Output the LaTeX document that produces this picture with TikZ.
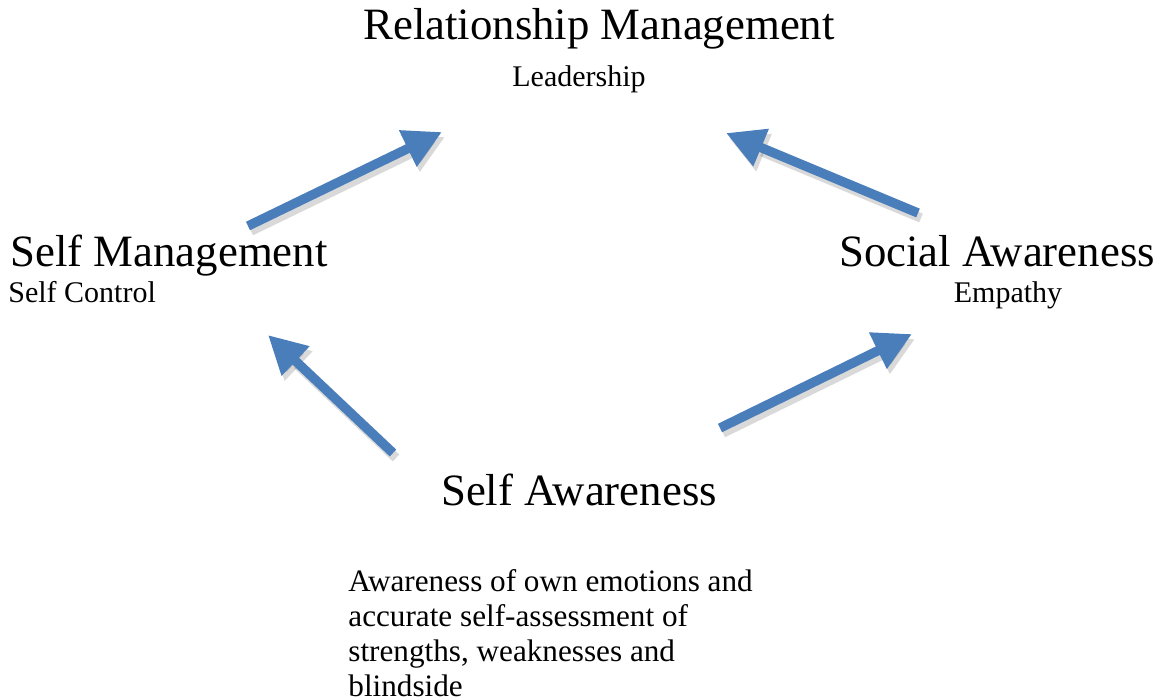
\documentclass[tikz,border=0pt]{standalone}
\usepackage{fontspec}
\setmainfont{Liberation Serif}
\usepackage{tikz}
\usetikzlibrary{arrows.meta,positioning}

\definecolor{arrowblue}{RGB}{74,126,187}

\begin{document}
\begin{tikzpicture}[x=0.5pt, y=-0.5pt,
                    title/.style={inner sep=0pt, font=\fontsize{22.4}{26}\selectfont},
                    sub/.style={inner sep=0pt, font=\fontsize{15}{17.5}\selectfont},
                    bluearrow/.style={line width=4.7pt, arrowblue, -{Triangle[width=19pt,length=19pt]}},
                    arrowshadow/.style={line width=4.7pt, black, opacity=.15, -{Triangle[width=19pt,length=19pt]}},
                   ]

\useasboundingbox (0,0) rectangle (1162,700);

% headings and their lines below
\node[title, anchor=base] (relman) at (599,40) {Relationship Management};
\node[sub, anchor=base] (lead) at (579,87) {Leadership};

\node[title, anchor=base west] (selfman) at (10,267) {Self Management};
\node[sub, anchor=base west] (selfctrl) at (8,303) {Self Control};

\node[title, anchor=base] (socaw) at (997,267) {Social Awareness};
\node[sub, anchor=base] (empathy) at (1008,303) {Empathy};

\node[title, anchor=base] (selfaw) at (579,505) {Self Awareness};
% base of a multi-line node is its last line
\node[sub, anchor=base west, align=left, font=\fontsize{15.6}{17.5}\selectfont] (selfawtxt) at (348,696)
  {Awareness of own emotions and\\accurate self-assessment of\\strengths, weaknesses and\\blindside};

% arrow ends
\coordinate (smtail) at (248,226);
\coordinate (smtip) at (442,132);
\coordinate (satail) at (918,213);
\coordinate (satip) at (726,133);
\coordinate (awltail) at (393,453);
\coordinate (awltip) at (268,335);
\coordinate (awrtail) at (720,428);
\coordinate (awrtip) at (912,334);

\foreach \a/\b in {smtail/smtip, satail/satip, awltail/awltip, awrtail/awrtip}{
  \draw[arrowshadow, transform canvas={xshift=1.5pt, yshift=-2.5pt}] (\a) -- (\b);
  \draw[bluearrow] (\a) -- (\b);
}

\end{tikzpicture}
\end{document}
